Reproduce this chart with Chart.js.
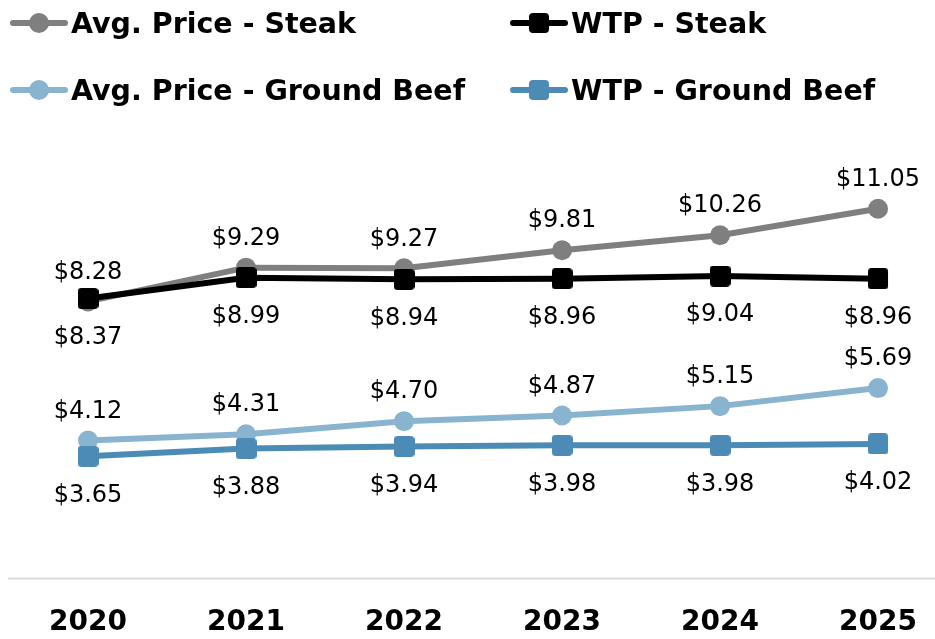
<!DOCTYPE html>
<html>
<head>
<meta charset="utf-8">
<script src="https://cdn.jsdelivr.net/npm/chart.js@4.4.1/dist/chart.umd.min.js"></script>
<style>
  html, body { margin: 0; padding: 0; background: #fff; }
  #wrap { position: relative; width: 935px; height: 639px; overflow: hidden; }
  #chart { display: block; }
  #legend { position: absolute; left: 0; top: 0; width: 935px; height: 120px; font: bold 28.5px "DejaVu Sans", sans-serif; color: #000; }
  .item { position: absolute; display: flex; align-items: center; height: 34px; white-space: nowrap; }
  .sym { position: relative; width: 58px; height: 34px; margin-right: 3px; }
  .sym .ln { position: absolute; left: 0; right: 0; top: 14px; height: 6px; border-radius: 3px; }
  .sym .mk { position: absolute; left: 19px; top: 7px; width: 20px; height: 20px; }
</style>
</head>
<body>
<div id="wrap">
  <canvas id="chart" width="935" height="639"></canvas>
  <div id="legend"></div>
</div>
<script>
// years on the x axis
const years = ['2020', '2021', '2022', '2023', '2024', '2025'];

// dollar values per year
const avgSteak = [8.28, 9.29, 9.27, 9.81, 10.26, 11.05];
const wtpSteak = [8.37, 8.99, 8.94, 8.96, 9.04, 8.96];
const avgGround = [4.12, 4.31, 4.70, 4.87, 5.15, 5.69];
const wtpGround = [3.65, 3.88, 3.94, 3.98, 3.98, 4.02];

const seriesLabels = ['Avg. Price - Steak', 'WTP - Steak', 'Avg. Price - Ground Beef', 'WTP - Ground Beef'];
const seriesColors = ['#7f7f7f', '#000000', '#89b4cf', '#4b8bb6'];

const FONT = '"DejaVu Sans", sans-serif';

// rounded square marker for the WTP lines
function roundSquare(color) {
  const c = document.createElement('canvas');
  c.width = 21; c.height = 21;
  const g = c.getContext('2d');
  g.fillStyle = color;
  g.beginPath();
  g.roundRect(0, 0, 21, 21, 4);
  g.fill();
  return c;
}

function makeSeries(i, data, square) {
  return {
    label: seriesLabels[i],
    data: data,
    borderColor: seriesColors[i],
    backgroundColor: seriesColors[i],
    borderWidth: 6,
    pointStyle: square ? roundSquare(seriesColors[i]) : 'circle',
    pointRadius: 10,
    pointBorderWidth: 0,
    tension: 0,
    order: square ? 0 : 1,
    labelPos: square ? 'below' : 'above',
  };
}

// value labels, $ amounts above (avg price) or below (wtp) each point
const valueLabels = {
  id: 'valueLabels',
  afterDatasetsDraw(chart) {
    const ctx = chart.ctx;
    ctx.save();
    ctx.font = '24px ' + FONT;
    ctx.fillStyle = '#000';
    ctx.textAlign = 'center';
    ctx.textBaseline = 'middle';
    chart.data.datasets.forEach((ds, i) => {
      const meta = chart.getDatasetMeta(i);
      meta.data.forEach((pt, j) => {
        const dy = ds.labelPos === 'above' ? -29 : 39;
        ctx.fillText('$' + ds.data[j].toFixed(2), pt.x, pt.y + dy);
      });
    });
    ctx.restore();
  }
};

// light baseline running the full width at zero
const baseline = {
  id: 'baseline',
  beforeDatasetsDraw(chart) {
    const ctx = chart.ctx;
    const y = chart.scales.y.getPixelForValue(0);
    ctx.save();
    ctx.strokeStyle = '#d9d9d9';
    ctx.lineWidth = 2;
    ctx.beginPath();
    ctx.moveTo(8, y);
    ctx.lineTo(chart.width, y);
    ctx.stroke();
    ctx.restore();
  }
};

const chart = new Chart(document.getElementById('chart'), {
  type: 'line',
  data: {
    labels: years,
    datasets: [
      makeSeries(0, avgSteak, false),
      makeSeries(1, wtpSteak, true),
      makeSeries(2, avgGround, false),
      makeSeries(3, wtpGround, true),
    ],
  },
  options: {
    responsive: false,
    animation: false,
    layout: { padding: { top: 177, left: 88, right: 40, bottom: -19 } },
    plugins: {
      legend: { display: false },
      tooltip: { enabled: false },
    },
    scales: {
      x: {
        offset: false,
        grid: { display: true, drawOnChartArea: false, drawTicks: true, tickLength: 10, color: 'rgba(0,0,0,0)' },
        border: { display: false },
        ticks: { color: '#000', padding: 18, maxRotation: 0, font: { family: FONT, size: 28, weight: 'bold' } },
      },
      y: {
        display: false,
        min: 0,
        max: 12,
      },
    },
  },
  plugins: [baseline, valueLabels],
});

// legend laid out as a 2x2 grid like the original
const legendPos = [[10, 6], [510, 6], [10, 73], [510, 73]];
const legendEl = document.getElementById('legend');
chart.data.datasets.forEach((ds, i) => {
  const item = document.createElement('div');
  item.className = 'item';
  item.style.left = legendPos[i][0] + 'px';
  item.style.top = legendPos[i][1] + 'px';
  const square = ds.labelPos === 'below';
  item.innerHTML =
    '<span class="sym"><span class="ln" style="background:' + ds.borderColor + '"></span>' +
    '<span class="mk" style="background:' + ds.borderColor + ';border-radius:' + (square ? '4px' : '50%') + '"></span></span>' +
    '<span>' + ds.label + '</span>';
  legendEl.appendChild(item);
});
</script>
</body>
</html>
